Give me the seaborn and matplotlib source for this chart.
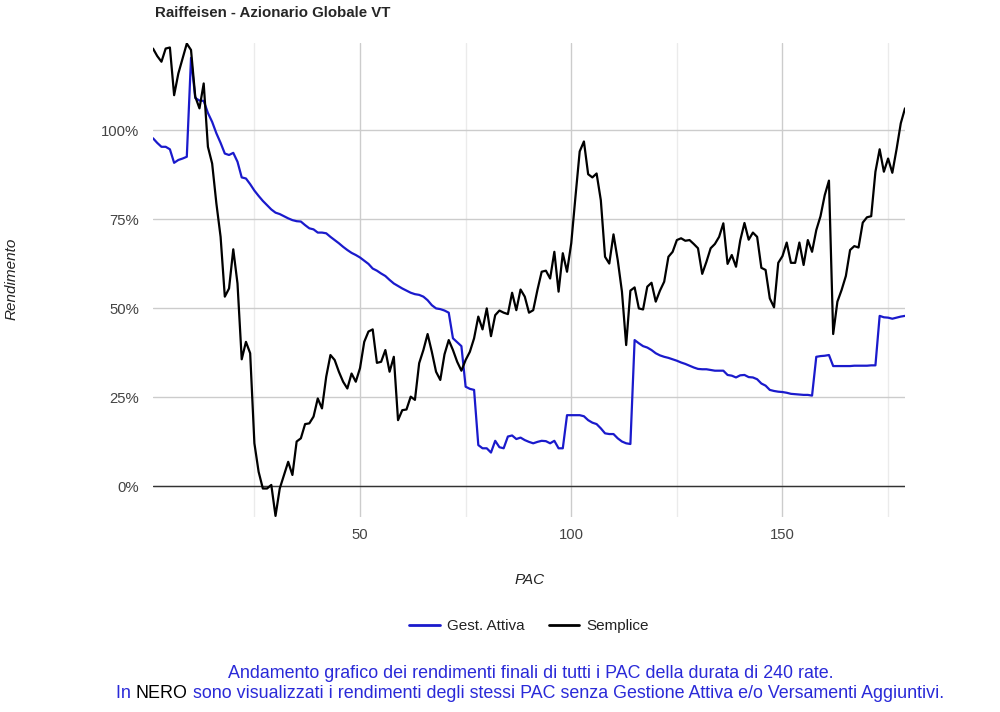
import numpy as np
import pandas as pd
import seaborn as sns
import matplotlib.pyplot as plt
from matplotlib.ticker import FuncFormatter
from matplotlib.lines import Line2D

# rendimenti finali dei PAC (in %)
semplice = [
    122.9, 120.8, 119.2, 122.9, 123.2, 109.8, 115.9, 120.1, 124.3, 122.5,
    109.4, 106.1, 113.1, 95.3, 90.6, 79.4, 70.0, 53.2, 55.5, 66.5,
    56.9, 35.6, 40.5, 37.3, 12.0, 4.0, -0.7, -0.7, 0.3, -8.4,
    -0.7, 3.1, 6.8, 3.1, 12.5, 13.4, 17.4, 17.6, 19.5, 24.6,
    21.8, 30.7, 36.8, 35.4, 32.1, 29.3, 27.4, 31.6, 29.3, 33.1,
    40.5, 43.4, 44.0, 34.6, 34.9, 38.2, 32.1, 36.3, 18.5, 21.3,
    21.5, 25.1, 24.2, 34.5, 38.2, 42.7, 37.7, 32.1, 29.8, 37.0,
    41.0, 38.2, 34.9, 32.4, 35.4, 37.7, 41.5, 47.6, 44.0, 49.9,
    42.1, 48.0, 49.3, 48.7, 48.3, 54.3, 49.4, 55.2, 53.2, 48.7,
    49.4, 55.1, 60.2, 60.5, 58.3, 65.8, 54.6, 65.4, 60.2, 68.2,
    81.3, 94.0, 96.8, 87.6, 86.7, 87.8, 80.3, 64.4, 62.5, 70.7,
    63.5, 54.6, 39.6, 54.9, 55.8, 49.9, 49.6, 56.0, 57.1, 51.8,
    54.9, 57.4, 64.4, 65.8, 69.1, 69.6, 68.9, 69.1, 68.0, 66.8,
    59.6, 63.0, 66.8, 68.0, 70.0, 73.8, 62.4, 64.9, 61.6, 69.0,
    73.9, 69.2, 71.2, 70.0, 61.3, 60.7, 52.7, 50.2, 62.7, 64.6,
    68.4, 62.7, 62.7, 68.4, 62.1, 69.1, 65.8, 71.9, 75.8, 81.7,
    85.8, 42.7, 51.8, 55.1, 59.0, 66.3, 67.4, 67.0, 74.0, 75.5,
    75.8, 88.3, 94.6, 88.3, 92.0, 88.0, 94.6, 101.9, 106.1,
]

gest_attiva = [
    97.7, 96.4, 95.3, 95.3, 94.6, 90.8, 91.6, 92.0, 92.5, 120.3,
    109.0, 108.3, 108.2, 104.8, 102.3, 99.1, 96.4, 93.4, 93.0, 93.6,
    91.1, 86.7, 86.4, 84.8, 83.0, 81.5, 80.1, 78.9, 77.7, 76.8,
    76.4, 75.8, 75.2, 74.7, 74.4, 74.3, 73.3, 72.4, 72.1, 71.2,
    71.2, 71.0, 70.0, 69.1, 68.2, 67.2, 66.3, 65.5, 64.9, 64.2,
    63.3, 62.4, 61.1, 60.5, 59.7, 59.0, 57.9, 56.9, 56.2, 55.5,
    54.9, 54.3, 53.9, 53.7, 53.2, 52.2, 50.8, 49.9, 49.7, 49.3,
    48.7, 41.5, 40.4, 39.3, 27.9, 27.3, 27.0, 11.5, 10.6, 10.6,
    9.4, 12.7, 10.9, 10.6, 13.9, 14.2, 13.2, 13.6, 12.9, 12.4,
    12.0, 12.4, 12.7, 12.6, 12.0, 12.7, 10.6, 10.6, 19.9, 19.9,
    19.9, 19.9, 19.6, 18.5, 17.8, 17.4, 16.2, 14.8, 14.6, 14.6,
    13.4, 12.5, 12.0, 11.8, 41.0, 40.1, 39.3, 38.9, 38.2, 37.3,
    36.7, 36.3, 36.0, 35.6, 35.2, 34.7, 34.3, 33.8, 33.3, 32.9,
    32.8, 32.8, 32.6, 32.4, 32.4, 32.4, 31.2, 31.0, 30.5, 31.1,
    31.2, 30.6, 30.5, 30.0, 28.8, 28.2, 27.0, 26.7, 26.5, 26.4,
    26.2, 25.9, 25.8, 25.7, 25.6, 25.6, 25.4, 36.3, 36.5, 36.6,
    36.8, 33.7, 33.7, 33.7, 33.7, 33.7, 33.8, 33.8, 33.8, 33.8,
    33.9, 33.9, 47.8, 47.4, 47.3, 47.0, 47.3, 47.6, 47.8,
]

pac = list(range(1, len(semplice) + 1))
serie_names = ["Gest. Attiva", "Semplice"]
y_ticks = [0, 25, 50, 75, 100]
x_ticks = [50, 100, 150]
x_minor = [25, 75, 125, 175]

title = "Raiffeisen - Azionario Globale VT"
caption1 = "Andamento grafico dei rendimenti finali di tutti i PAC della durata di 240 rate."
caption2 = [("In ", "blue"), ("NERO", "black"),
            (" sono visualizzati i rendimenti degli stessi PAC senza Gestione Attiva e/o Versamenti Aggiuntivi.", "blue")]

BLUE_LINE = "#1a1acc"
BLUE_TEXT = "#2a2ad8"
colors = {"Gest. Attiva": BLUE_LINE, "Semplice": "#000000"}

df = pd.DataFrame({
    "PAC": pac + pac,
    "Rendimento": gest_attiva + semplice,
    "serie": [serie_names[0]] * len(pac) + [serie_names[1]] * len(pac),
})

sns.set_style("white")
plt.rcParams['font.family'] = ['Liberation Sans', 'DejaVu Sans']

fig = plt.figure(figsize=(10, 7.12), dpi=100)
ax = fig.add_axes([0.153, 0.2739, 0.752, 0.6664])

sns.lineplot(data=df, x="PAC", y="Rendimento", hue="serie", palette=colors,
             hue_order=serie_names, estimator=None, sort=False,
             linewidth=1.6, legend=False, ax=ax, zorder=3)

ax.set_xlim(1, 179)
ax.set_ylim(-8.7, 124.6)
ax.set_yticks(y_ticks)
ax.yaxis.set_major_formatter(FuncFormatter(lambda v, p: f"{v:.0f}%"))
ax.set_xticks(x_ticks)
ax.set_xticks(x_minor, minor=True)
ax.grid(which="major", color="#cccccc", linewidth=1)
ax.grid(which="minor", axis="x", color="#ebebeb", linewidth=1)
ax.axhline(0, color="#333333", linewidth=1, zorder=2)
for s in ax.spines.values():
    s.set_visible(False)
ax.tick_params(which="both", length=0, labelsize=10.7, labelcolor="#444444")
ax.tick_params(axis="y", pad=10)
ax.tick_params(axis="x", pad=8)
ax.set_xlabel("")
ax.set_ylabel("")

fig.text(0.155, 1 - 13 / 712, title, fontsize=10.8, fontweight="bold", va="center", ha="left")
fig.text(0.012, 1 - 279 / 712, "Rendimento", rotation=90, fontstyle="italic",
         fontsize=11, color="#222222", va="center", ha="center")
fig.text(0.53, 1 - 580 / 712, "PAC", fontstyle="italic", fontsize=11,
         color="#222222", va="center", ha="center")

handles = [Line2D([], [], color=colors[n], linewidth=2) for n in serie_names]
leg = fig.legend(handles, serie_names, loc="center", bbox_to_anchor=(0.529, 1 - 626 / 712),
                 ncol=2, frameon=False, fontsize=11, handlelength=2.0,
                 columnspacing=1.6, handletextpad=0.45)
for t in leg.get_texts():
    t.set_color("#222222")

fig.text(0.531, 1 - 673 / 712, caption1, fontsize=12.9, color=BLUE_TEXT, ha="center", va="center")

# seconda riga con NERO in nero
cmap = {"blue": BLUE_TEXT, "black": "#000000"}
parts = [fig.text(0, 1 - 693 / 712, s, fontsize=12.9, color=cmap[c], ha="left", va="center")
         for s, c in caption2]
fig.canvas.draw()
r = fig.canvas.get_renderer()
widths = [p.get_window_extent(r).width / fig.bbox.width for p in parts]
x0 = 0.53 - sum(widths) / 2
for p, w in zip(parts, widths):
    p.set_x(x0)
    x0 += w

fig.savefig("out.png", dpi=100)
